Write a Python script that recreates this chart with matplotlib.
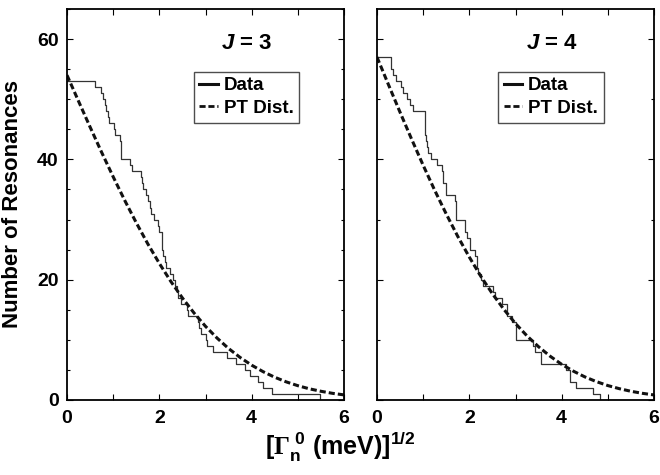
import numpy as np
import matplotlib
matplotlib.use("Agg")
import matplotlib.pyplot as plt
from matplotlib.lines import Line2D
from matplotlib.ticker import MultipleLocator

plt.rcParams['font.family'] = ['Liberation Sans', 'DejaVu Sans']
plt.rcParams['font.weight'] = 'bold'
plt.rcParams['mathtext.fontset'] = 'custom'
plt.rcParams['mathtext.rm'] = 'Liberation Serif'
plt.rcParams['mathtext.bf'] = 'Liberation Sans:bold'
plt.rcParams['mathtext.it'] = 'Liberation Sans:bold:italic'

# sqrt(Gamma_n^0) values (meV^1/2), sorted, read from step positions
j3_values = [0.61, 0.74, 0.79, 0.83, 0.84, 0.89, 0.92, 1.02, 1.04, 1.15,
             1.16, 1.17, 1.18, 1.36, 1.40, 1.61, 1.62, 1.65, 1.71, 1.76,
             1.80, 1.83, 1.89, 1.98, 2.00, 2.05, 2.05, 2.06, 2.09, 2.12,
             2.14, 2.23, 2.30, 2.34, 2.39, 2.41, 2.48, 2.59, 2.63, 2.84,
             2.85, 2.91, 3.02, 3.03, 3.17, 3.46, 3.67, 3.85, 3.96, 4.14,
             4.25, 4.43, 5.48]
j4_values = [0.30, 0.30, 0.35, 0.41, 0.51, 0.57, 0.64, 0.71, 0.79, 1.04,
             1.04, 1.05, 1.05, 1.06, 1.08, 1.11, 1.18, 1.31, 1.40, 1.42,
             1.44, 1.49, 1.49, 1.69, 1.72, 1.72, 1.72, 1.90, 1.90, 1.94,
             2.01, 2.01, 2.12, 2.16, 2.16, 2.19, 2.25, 2.30, 2.52, 2.56,
             2.70, 2.81, 2.81, 2.92, 3.02, 3.02, 3.02, 3.37, 3.42, 3.56,
             3.56, 4.10, 4.17, 4.19, 4.32, 4.68, 4.83]

# Porter-Thomas curves
pt_x = [0.0, 0.25, 0.5, 0.75, 1.0, 1.25, 1.5, 1.75, 2.0, 2.25, 2.5, 2.75, 3.0,
        3.25, 3.5, 3.75, 4.0, 4.25, 4.5, 4.75, 5.0, 5.25, 5.5, 5.75, 6.0]
pt_j3 = [54.0, 49.67, 45.38, 41.18, 37.11, 33.19, 29.47, 25.96, 22.71, 19.70,
         16.96, 14.48, 12.25, 10.30, 8.56, 7.07, 5.79, 4.70, 3.78, 3.01,
         2.38, 1.86, 1.45, 1.11, 0.85]
pt_j4 = [57.0, 52.39, 47.82, 43.36, 39.02, 34.86, 30.92, 27.19, 23.75, 20.55,
         17.66, 15.05, 12.71, 10.65, 8.85, 7.28, 5.93, 4.81, 3.85, 3.06,
         2.40, 1.88, 1.45, 1.11, 0.84]

xtick_vals = [0, 1, 2, 3, 4, 5, 6]
xtick_labels = ['0', '', '2', '', '4', '', '6']
ytick_vals = [0, 20, 40, 60]

fig = plt.figure(figsize=(6.6, 4.75), dpi=100)
axL = fig.add_axes([67/660, 75/475, 277/660, 391/475])
axR = fig.add_axes([377/660, 75/475, 277/660, 391/475])

panels = [(axL, j3_values, pt_j3, '3', 5, 3.9, 0.458),
          (axR, j4_values, pt_j4, '4', 10, 3.78, 0.437)]
for ax, vals, pt, jlab, minor, tx, lx in panels:
    n = len(vals)
    xs = [0.0] + list(vals) + [6.0]
    counts = list(np.arange(n, -1, -1)) + [0]
    ax.step(xs, counts, where='post', color='#333333', lw=0.9)
    ax.plot(pt_x, pt, color='#111111', lw=2.2, ls=(0, (2.0, 1.0)))
    ax.set_xlim(0, 6)
    ax.set_ylim(0, 65)
    ax.set_xticks(xtick_vals)
    ax.set_xticklabels(xtick_labels)
    ax.set_yticks(ytick_vals)
    ax.yaxis.set_minor_locator(MultipleLocator(minor))
    ax.tick_params(which='both', direction='in', top=True, right=True,
                   labelsize=14, width=0.8)
    ax.tick_params(which='major', length=4)
    ax.tick_params(axis='x', which='major', pad=7)
    ax.tick_params(axis='y', which='major', pad=6)
    ax.tick_params(which='minor', length=2.5)
    for s in ax.spines.values():
        s.set_linewidth(1.3)
    for t in ax.get_xticklabels() + ax.get_yticklabels():
        t.set_fontweight('bold')
    ax.text(tx, 59.3, r'$\mathit{J}$ = ' + jlab,
            ha='center', va='center', fontsize=16, fontweight='bold')
    handles = [Line2D([], [], color='#111111', lw=2.2),
               Line2D([], [], color='#111111', lw=2.0, ls=(0, (2.2, 1.0)))]
    leg = ax.legend(handles, ['Data', 'PT Dist.'],
                    loc='upper left', bbox_to_anchor=(lx, 0.84),
                    frameon=True, fancybox=False, edgecolor='#222222',
                    handlelength=1.0, handletextpad=0.3,
                    borderpad=0.3, labelspacing=0.3, borderaxespad=0,
                    prop={'weight': 'bold', 'size': 13.5})
    leg.get_frame().set_linewidth(1.0)

axR.set_yticklabels([])
axL.set_ylabel('Number of Resonances', fontsize=16, fontweight='bold', labelpad=10)
fig.text(0.515, 0.058,
         r'[$\Gamma_{\mathbf{n}}^{\ \mathbf{0}}$ (meV)]$^{\mathbf{1/2}}$',
         ha='center', va='center', fontsize=18, fontweight='bold')

fig.savefig('out.png', dpi=100)
